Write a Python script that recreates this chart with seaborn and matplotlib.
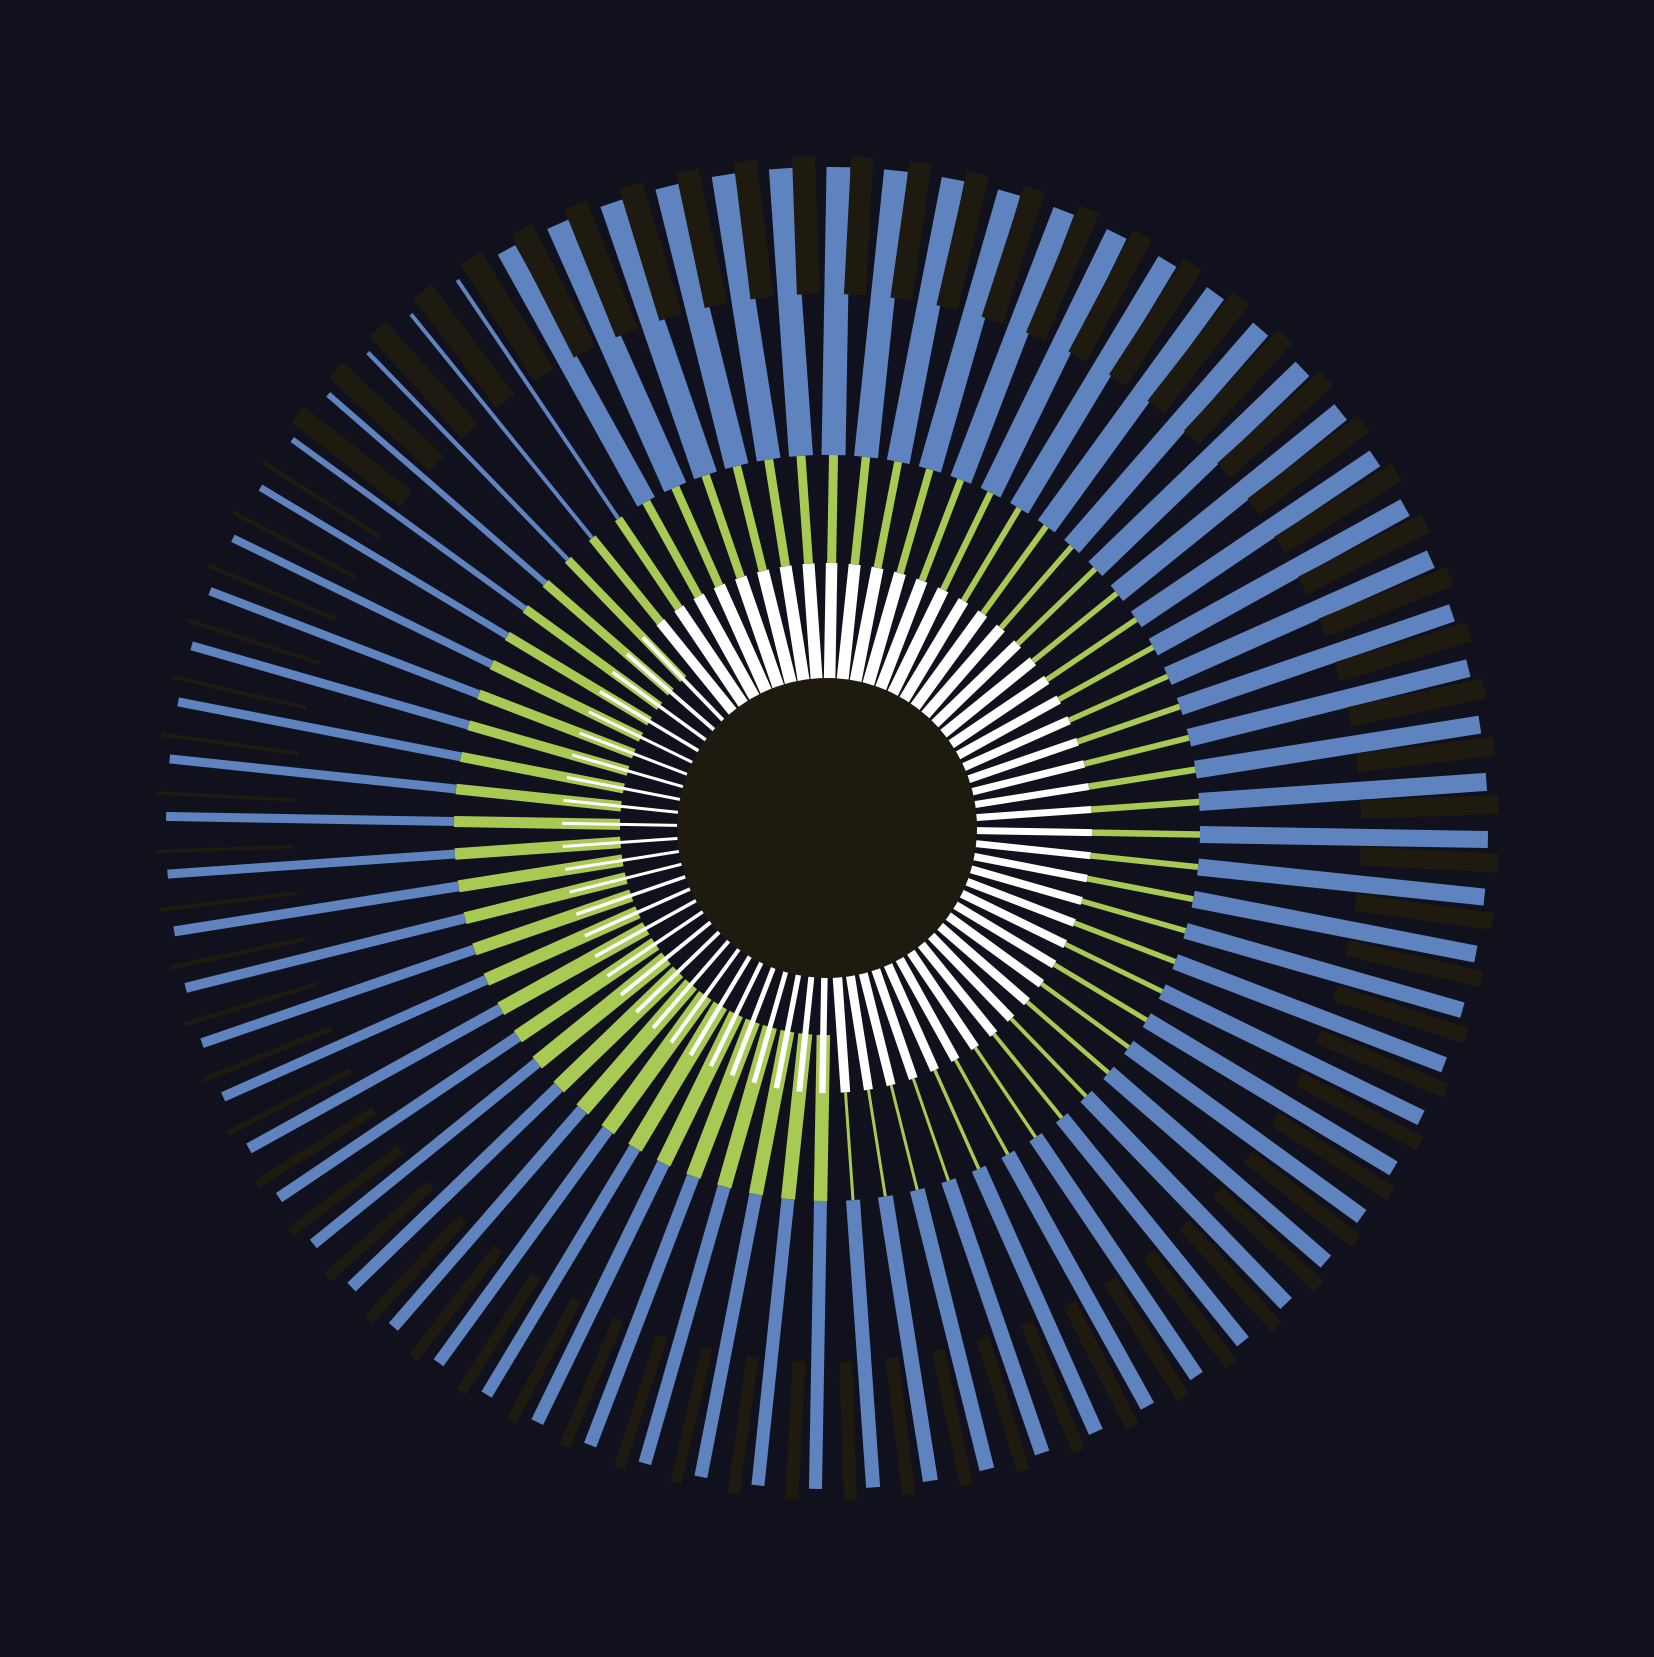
import numpy as np
import matplotlib
matplotlib.use("Agg")
import matplotlib.pyplot as plt
import seaborn as sns

# colours
bg = "#11111d"
brown = "#1e1a0f"
blue = "#5f83bf"
green = "#a9c955"
white = "#ffffff"

# 72 spokes, clockwise from the top
n_spokes = 72
step = 360 / n_spokes

# bar widths (px) per spoke
white_w = [11.5, 12, 12, 12, 11.5, 11.5, 11, 11, 10.5, 10, 10, 9.5, 9, 8.5, 8, 7.5, 7, 7,
           7, 7, 7.5, 8, 8, 8.5, 8.5, 9, 9, 9, 9, 9, 9, 9, 9, 9, 9, 9.5,
           6.5, 6, 5.5, 5, 5, 4.5, 4.5, 4, 4, 4, 4, 3.5, 3.5, 3.5, 3.5, 3, 3, 3,
           3, 3, 3, 3, 3, 3, 3.5, 3.5, 4, 4, 10, 11, 11.5, 12, 12, 12, 12, 12]
green_w = [9, 8.5, 8, 7.5, 7, 6.5, 6, 6, 5.5, 5.5, 5.5, 5.5, 5.5, 5.5, 6, 6, 6.5, 6.5,
           6.5, 6, 6, 5.5, 5.5, 5, 5, 4.5, 4.5, 4, 4, 3.5, 3.5, 3.5, 3, 3, 3, 3,
           13.5, 14, 14, 14.5, 15, 15, 15.5, 15.5, 15.5, 15, 15, 14, 14, 13, 12.5, 12, 12, 11.5,
           11, 10.5, 10, 10, 10, 10, 9.5, 9, 9, 8.5, 8.5, 8.5, 8.5, 8.5, 8.5, 8.5, 9, 9]
blue_w = [24, 24, 23, 23, 22, 22, 21, 21, 20, 20, 20, 19, 19, 19, 18, 18, 18, 18,
          17, 17, 17, 16, 16, 16, 16, 16, 16, 16, 15, 15, 15, 15, 15, 15, 15, 14,
          13, 13, 13, 13, 13, 13, 12, 12, 12, 12, 11, 11, 11, 10, 10, 10, 10, 9,
          9, 9, 9, 9, 8.5, 8, 7, 6, 6, 4.5, 4, 4, 20, 24, 24, 24, 24, 24]
brown_w = [22, 22, 22, 22, 21, 21, 21, 21, 20, 20, 20, 20, 20, 20, 20, 20, 19, 19,
           19, 17, 16, 16, 15, 15, 15, 15, 14, 14, 14, 14, 14, 13, 13, 13, 13, 13,
           13, 12, 11, 11, 11, 11, 11, 11, 11, 11, 10, 9, 6, 5.5, 4.5, 4.5, 4, 3.5,
           3.5, 4, 4, 4, 4.5, 4.5, 4.5, 20, 21, 22, 23, 24, 24, 24, 24, 23, 23, 23]

# where the green segment starts (px from centre)
green_start = [265] * 36 + [207] * 28 + [265] * 8

# ring radii (px)
core_r = 150
white_end = 265
green_end = 373
blue_end = 661
brown_r0, brown_r1 = 534, 672

sns.set_theme(style="dark", rc={"figure.facecolor": bg, "axes.facecolor": bg,
                                "lines.solid_capstyle": "butt"})

W, H = 1654, 1658
fig = plt.figure(figsize=(W / 100, H / 100), dpi=100)
ax = fig.add_axes([0, 0, 1, 1], projection="polar")
ax.set_theta_zero_location("N")
ax.set_theta_direction(-1)
ax.axis("off")

px = 72 / 100  # px -> points

theta = np.deg2rad(1 + step * np.arange(n_spokes))
theta_b = np.deg2rad(3 + step * np.arange(n_spokes))

for i in range(n_spokes):
    t = theta[i]
    ax.plot([t, t], [green_end, blue_end], color=blue, lw=blue_w[i] * px,
            solid_capstyle="butt")
for i in range(n_spokes):
    t = theta_b[i]
    ax.plot([t, t], [brown_r0, brown_r1], color=brown, lw=brown_w[i] * px,
            solid_capstyle="butt")
for i in range(n_spokes):
    t = theta[i]
    ax.plot([t, t], [green_start[i], green_end], color=green, lw=green_w[i] * px,
            solid_capstyle="butt")
for i in range(n_spokes):
    t = theta[i]
    ax.plot([t, t], [core_r - 5, white_end], color=white, lw=white_w[i] * px,
            solid_capstyle="butt")

# dark core
ax.bar(0, core_r, width=2 * np.pi, bottom=0, color=brown, linewidth=0, zorder=5)
ax.set_rlim(0, W / 2)

fig.savefig("out.png", dpi=100, facecolor=bg)
